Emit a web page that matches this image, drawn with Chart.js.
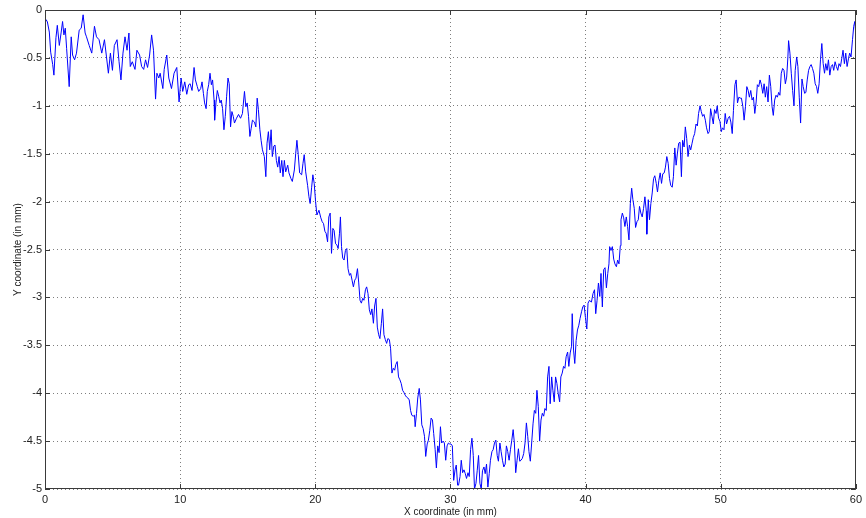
<!DOCTYPE html>
<html><head><meta charset="utf-8">
<script src="https://cdn.jsdelivr.net/npm/chart.js@4.4.1/dist/chart.umd.min.js"></script>
<style>html,body{margin:0;padding:0;background:#fff;}canvas{display:block;}</style>
</head><body>
<canvas id="c" width="866" height="518"></canvas>
<script>
const xValues = [
0.00,0.07,0.17,0.32,0.42,0.57,0.66,0.81,0.91,1.06,1.20,1.30,1.40,1.50,1.60,1.79,1.94,2.04,2.19,2.33,2.53,2.68,2.82,2.97,3.07,3.27,3.46,3.66,3.81,4.00,4.20,4.40,4.55,4.69,4.84,4.99,5.13,5.33,5.48,5.62,5.77,5.92,6.07,6.21,6.31,6.46,6.66,6.80,7.00,7.15,7.30,7.44,7.59,7.74,7.89,8.03,8.18,8.28,8.42,8.52,8.72,8.82,9.01,9.16,9.36,9.55,9.75,9.92,10.07,10.19,10.34,10.49,10.63,
10.74,10.88,11.03,11.13,11.27,11.37,11.52,11.62,11.72,11.81,11.92,12.01,12.11,12.21,12.31,12.40,12.51,12.55,12.65,12.75,12.85,12.95,13.04,13.14,13.24,13.34,13.44,13.54,13.63,13.73,13.83,13.93,14.02,14.17,14.32,14.47,14.61,14.76,14.86,14.96,15.06,15.16,15.25,15.35,15.50,15.60,15.70,15.79,15.90,15.99,16.09,16.23,16.34,16.43,16.53,16.63,16.73,16.82,16.93,17.02,17.12,17.22,17.32,17.41,17.52,17.61,17.71,17.81,17.96,18.05,18.20,18.30,18.45,18.55,18.64,18.74,18.84,18.99,19.09,19.18,19.29,19.43,19.53,19.62,19.73,19.82,19.92,20.02,20.12,20.27,20.41,
20.51,20.61,20.71,20.80,20.91,21.00,21.10,21.20,21.30,21.39,21.50,21.59,21.69,21.79,21.86,21.94,22.03,22.13,22.23,22.33,22.42,22.53,22.62,22.72,22.82,22.92,23.01,23.12,23.21,23.31,23.41,23.51,23.60,23.71,23.80,23.90,24.00,24.10,24.19,24.30,24.39,24.49,24.59,24.69,24.78,24.89,24.98,25.08,25.18,25.28,25.37,25.48,25.57,25.67,25.77,25.87,25.96,26.06,26.16,26.26,26.36,26.46,26.55,26.65,26.75,26.85,26.95,27.05,27.14,27.24,27.34,27.39,27.49,27.58,27.69,27.78,27.88,27.98,28.08,28.17,28.28,28.37,28.47,28.57,28.67,28.76,28.87,28.96,29.06,29.16,29.26,29.35,29.46,29.55,29.65,29.75,29.85,29.94,30.04,30.14,30.24,30.34,30.43,30.53,
30.60,30.71,30.80,30.90,31.00,31.10,31.19,31.30,31.39,31.49,31.59,31.69,31.78,31.89,31.98,32.08,32.18,32.28,32.37,32.48,32.57,32.67,32.77,32.87,32.96,33.07,33.16,33.26,33.36,33.46,33.55,33.66,33.75,33.85,33.95,34.05,34.14,34.24,34.34,34.44,34.54,34.64,34.73,34.83,34.93,35.03,35.13,35.22,35.32,35.42,35.52,35.62,35.72,35.81,35.91,36.01,36.11,36.21,36.31,36.40,36.50,36.60,36.70,36.80,36.90,36.99,37.09,37.19,37.29,37.38,37.49,37.58,37.68,37.78,37.88,37.97,38.08,38.17,38.27,38.37,38.47,38.56,38.67,38.76,38.86,38.96,39.01,39.11,39.20,39.30,39.40,39.50,39.59,39.70,39.79,39.89,39.99,40.09,40.18,40.29,40.43,
40.55,40.66,40.75,40.85,40.95,41.05,41.14,41.24,41.34,41.44,41.54,41.64,41.73,41.78,41.88,41.98,42.08,42.17,42.28,42.37,42.47,42.57,42.62,42.72,42.82,42.91,43.01,43.11,43.21,43.31,43.41,43.50,43.60,43.70,43.80,43.90,43.99,44.09,44.19,44.29,44.39,44.49,44.53,44.64,44.73,44.83,44.93,45.03,45.12,45.23,45.32,45.42,45.52,45.62,45.71,45.82,45.91,46.01,46.11,46.21,46.30,46.41,46.50,46.60,46.70,46.79,46.89,46.99,47.09,47.18,47.29,47.38,47.48,47.58,47.68,47.78,47.88,47.97,48.07,48.17,48.27,48.36,48.47,48.56,48.66,48.76,48.86,48.95,49.06,49.15,49.25,49.35,49.45,49.54,49.65,49.74,49.84,49.94,50.04,50.13,50.24,50.33,50.43,
50.55,50.65,50.75,50.85,50.94,51.05,51.14,51.24,51.34,51.44,51.53,51.64,51.73,51.83,51.93,52.03,52.12,52.22,52.32,52.42,52.52,52.62,52.71,52.81,52.91,53.01,53.11,53.21,53.30,53.40,53.50,53.60,53.70,53.80,53.89,53.99,54.09,54.19,54.29,54.38,54.48,54.58,54.68,54.78,54.88,54.97,55.02,55.12,55.22,55.32,55.42,55.51,55.62,55.71,55.81,55.91,56.01,56.10,56.21,56.30,56.40,56.50,56.60,56.69,56.79,56.89,56.99,57.09,57.18,57.28,57.38,57.48,57.58,57.68,57.77,57.87,57.97,58.07,58.17,58.27,58.36,58.46,58.56,58.66,58.75,58.86,58.95,59.05,59.15,59.25,59.35,59.45,59.54,59.64,59.75,59.84,59.92,59.97,60.00
];
const yValues = [
-0.12,-0.10,-0.12,-0.23,-0.44,-0.57,-0.68,-0.29,-0.16,-0.37,-0.23,-0.12,-0.26,-0.19,-0.40,-0.80,-0.28,-0.47,-0.52,-0.45,-0.21,-0.19,-0.05,-0.24,-0.28,-0.37,-0.45,-0.17,-0.28,-0.31,-0.45,-0.31,-0.49,-0.66,-0.45,-0.63,-0.37,-0.31,-0.54,-0.73,-0.45,-0.28,-0.42,-0.24,-0.59,-0.54,-0.62,-0.42,-0.47,-0.59,-0.62,-0.52,-0.60,-0.47,-0.26,-0.42,-0.93,-0.66,-0.71,-0.66,-0.82,-0.62,-0.47,-0.71,-0.82,-0.66,-0.60,-0.96,-0.71,-0.85,-0.75,-0.88,-0.78,
-0.77,-0.84,-0.60,-0.73,-0.80,-0.85,-0.82,-0.75,-0.87,-0.97,-1.03,-0.85,-0.78,-0.66,-0.78,-0.73,-0.94,-1.15,-0.97,-0.84,-0.90,-0.97,-0.94,-1.03,-1.25,-1.11,-0.90,-0.71,-0.77,-1.22,-1.06,-1.11,-1.18,-1.13,-1.09,-1.13,-1.08,-0.85,-1.01,-0.97,-1.11,-1.32,-1.24,-1.15,-1.17,-1.22,-0.92,-1.04,-1.25,-1.36,-1.46,-1.53,-1.74,-1.39,-1.27,-1.46,-1.25,-1.53,-1.42,-1.41,-1.57,-1.64,-1.53,-1.70,-1.57,-1.74,-1.57,-1.69,-1.62,-1.70,-1.76,-1.79,-1.67,-1.50,-1.36,-1.51,-1.70,-1.72,-1.60,-1.51,-1.69,-1.83,-1.95,-2.02,-1.85,-1.72,-1.81,-2.00,-2.14,-2.09,-2.17,
-2.21,-2.23,-2.31,-2.33,-2.42,-2.16,-2.12,-2.54,-2.28,-2.30,-2.44,-2.45,-2.49,-2.33,-2.16,-2.47,-2.59,-2.61,-2.51,-2.49,-2.70,-2.77,-2.75,-2.82,-2.89,-2.82,-2.80,-2.70,-2.84,-3.03,-3.06,-3.01,-3.03,-2.92,-2.89,-2.96,-3.13,-3.18,-3.12,-3.27,-3.09,-3.01,-3.31,-3.39,-3.43,-3.27,-3.12,-3.39,-3.44,-3.48,-3.43,-3.44,-3.53,-3.79,-3.74,-3.76,-3.70,-3.67,-3.83,-3.86,-3.90,-3.97,-3.99,-4.02,-4.04,-4.05,-4.07,-4.18,-4.23,-4.24,-4.23,-4.35,-4.21,-4.05,-3.95,-4.07,-4.33,-4.37,-4.45,-4.66,-4.53,-4.49,-4.39,-4.26,-4.28,-4.42,-4.59,-4.78,-4.55,-4.62,-4.35,-4.52,-4.50,-4.52,-4.70,-4.55,-4.52,-4.53,-4.53,-4.55,-4.91,-4.80,-4.75,-4.96,
-4.96,-4.87,-4.70,-4.83,-4.80,-4.84,-4.89,-4.83,-4.87,-4.59,-4.47,-4.65,-5.00,-4.94,-4.81,-4.65,-4.94,-5.00,-4.81,-4.77,-4.84,-4.74,-4.98,-4.84,-4.70,-4.61,-4.59,-4.52,-4.49,-4.65,-4.71,-4.52,-4.61,-4.70,-4.77,-4.74,-4.55,-4.61,-4.70,-4.59,-4.49,-4.38,-4.52,-4.83,-4.70,-4.58,-4.71,-4.70,-4.68,-4.63,-4.52,-4.31,-4.45,-4.61,-4.71,-4.52,-4.32,-4.18,-4.21,-3.97,-4.14,-4.50,-4.28,-4.21,-4.24,-4.16,-4.18,-3.83,-3.72,-4.11,-3.83,-3.97,-4.09,-3.83,-3.90,-4.00,-4.09,-3.83,-3.79,-3.72,-3.74,-3.62,-3.57,-3.72,-3.58,-3.51,-3.17,-3.55,-3.69,-3.45,-3.34,-3.29,-3.22,-3.15,-3.10,-3.08,-3.21,-3.33,-3.06,-3.03,-3.05,
-2.96,-2.92,-3.17,-3.03,-2.85,-2.99,-2.75,-3.10,-2.71,-2.69,-2.90,-2.75,-2.65,-2.47,-2.51,-2.47,-2.60,-2.65,-2.68,-2.61,-2.65,-2.46,-2.19,-2.12,-2.17,-2.26,-2.16,-2.26,-2.40,-2.02,-1.86,-1.98,-2.07,-2.27,-2.21,-2.19,-2.05,-2.12,-2.16,-2.07,-1.95,-2.10,-2.34,-1.98,-2.19,-2.02,-1.91,-1.76,-1.73,-1.81,-1.90,-1.78,-1.70,-1.81,-1.71,-1.70,-1.64,-1.53,-1.60,-1.76,-1.83,-1.85,-1.74,-1.44,-1.62,-1.50,-1.39,-1.38,-1.74,-1.36,-1.43,-1.22,-1.34,-1.53,-1.41,-1.46,-1.39,-1.33,-1.29,-1.19,-1.21,-1.08,-1.00,-1.06,-1.11,-1.09,-1.15,-1.23,-1.29,-1.27,-1.03,-1.11,-1.19,-1.04,-1.08,-1.00,-1.13,-1.16,-1.27,-1.23,-1.25,-1.08,-1.19,
-1.13,-1.11,-1.17,-1.29,-1.05,-0.78,-0.73,-0.97,-0.91,-0.92,-0.92,-1.01,-1.15,-1.01,-0.80,-0.84,-0.91,-0.84,-0.94,-0.91,-1.08,-0.96,-0.78,-0.80,-0.73,-0.78,-0.87,-0.77,-0.91,-0.80,-0.96,-0.68,-0.80,-1.01,-1.10,-0.94,-0.89,-0.91,-0.86,-0.89,-0.66,-0.61,-0.63,-0.77,-0.70,-0.49,-0.32,-0.45,-0.66,-0.84,-1.00,-0.63,-0.49,-0.59,-0.91,-1.18,-0.72,-0.80,-0.87,-0.86,-0.73,-0.63,-0.59,-0.57,-0.61,-0.66,-0.77,-0.80,-0.87,-0.77,-0.52,-0.35,-0.56,-0.66,-0.56,-0.63,-0.52,-0.68,-0.59,-0.57,-0.63,-0.54,-0.59,-0.63,-0.56,-0.59,-0.51,-0.42,-0.56,-0.45,-0.59,-0.51,-0.45,-0.49,-0.31,-0.17,-0.12,-0.21,-0.49
];
const xTickValues = [0,10,20,30,40,50,60];
const yTickValues = [0,-0.5,-1,-1.5,-2,-2.5,-3,-3.5,-4,-4.5,-5];
const xTitle = 'X coordinate (in mm)';
const yTitle = 'Y coordinate (in mm)';

const points = xValues.map((x,i)=>({x:x, y:yValues[i]}));

const boxPlugin = {
  id:'box',
  afterDatasetsDraw(chart){
    const ctx = chart.ctx, a = chart.chartArea, xs = chart.scales.x, ys = chart.scales.y;
    ctx.save();
    ctx.strokeStyle='#3a3a3a'; ctx.lineWidth=1;
    ctx.beginPath();
    xTickValues.forEach(v=>{const p=Math.round(xs.getPixelForValue(v))+0.5; ctx.moveTo(p,a.bottom); ctx.lineTo(p,a.bottom-5); ctx.moveTo(p,a.top); ctx.lineTo(p,a.top+5);});
    yTickValues.forEach(v=>{const p=Math.round(ys.getPixelForValue(v))+0.5; ctx.moveTo(a.left,p); ctx.lineTo(a.left+5,p); ctx.moveTo(a.right,p); ctx.lineTo(a.right-5,p);});
    ctx.stroke();
    ctx.strokeRect(Math.round(a.left)+0.5, Math.round(a.top)+0.5, Math.round(a.right-a.left)-1, Math.round(a.bottom-a.top)-1);
    ctx.restore();
  }
};

const font = {family:'"Liberation Sans", Arial, sans-serif', size:11};
const fmt = v => String(v);

new Chart(document.getElementById('c'), {
  type:'line',
  data:{datasets:[{data:points, borderColor:'#0000ff', borderWidth:1, pointRadius:0, tension:0, fill:false}]},
  options:{
    responsive:false, animation:false, devicePixelRatio:1,
    layout:{padding:{left:0, top:10, right:6, bottom:0}},
    plugins:{legend:{display:false}, tooltip:{enabled:false}},
    scales:{
      x:{type:'linear', min:0, max:60,
        afterBuildTicks:s=>{s.ticks = xTickValues.map(v=>({value:v}));},
        afterFit:s=>{s.height = 29;},
        ticks:{autoSkip:false, maxRotation:0, padding:4, color:'#222', font:font, callback:fmt},
        grid:{color:'rgba(0,0,0,0.5)', drawTicks:false, lineWidth:1},
        border:{display:false, dash:[1,3]},
        title:{display:true, text:xTitle, color:'#222', font:{family:font.family, size:10}, padding:{top:2,bottom:0}}
      },
      y:{type:'linear', min:-5, max:0,
        afterBuildTicks:s=>{s.ticks = yTickValues.map(v=>({value:v}));},
        afterFit:s=>{s.width = 45;},
        ticks:{autoSkip:false, padding:3, color:'#222', font:font, callback:fmt},
        grid:{color:'rgba(0,0,0,0.5)', drawTicks:false, lineWidth:1},
        border:{display:false, dash:[1,3]},
        title:{display:true, text:yTitle, color:'#222', font:{family:font.family, size:10}, padding:{top:12,bottom:0}}
      }
    }
  },
  plugins:[boxPlugin]
});
</script>
</body></html>
